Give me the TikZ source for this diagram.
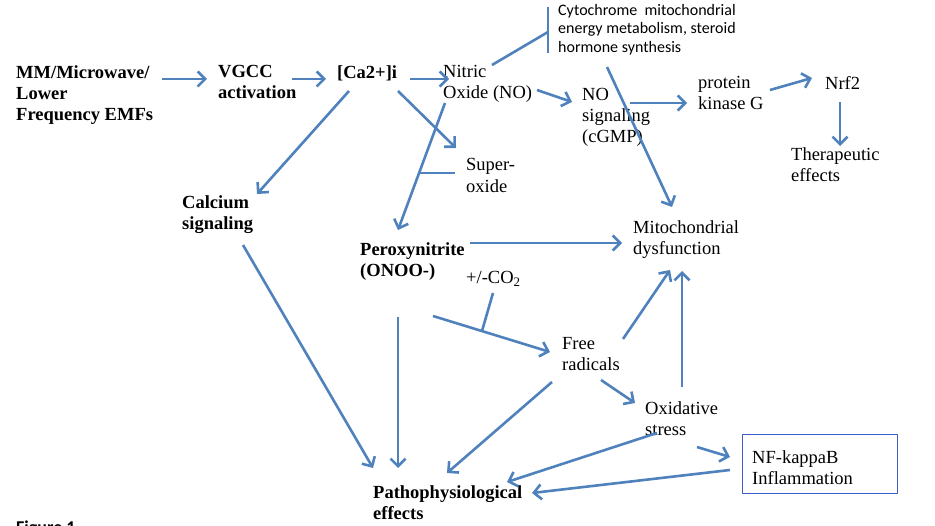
\documentclass[tikz,border=0pt]{standalone}
\usepackage{fontspec}
\setmainfont{Liberation Serif}
\newfontfamily\calib{Carlito}
\usetikzlibrary{arrows.meta}
\definecolor{arrowblue}{RGB}{79,129,189}
\definecolor{boxblue}{RGB}{60,95,200}
\begin{document}
\begin{tikzpicture}[x=1pt,y=-1pt,
  lbl/.style={anchor=north west,inner sep=0pt,align=left,font=\fontsize{18.5}{21}\selectfont},
  blbl/.style={lbl,font=\fontsize{18.5}{21}\selectfont\bfseries},
  slbl/.style={anchor=north west,inner sep=0pt,align=left,font=\calib\fontsize{16}{18.5}\selectfont},
  arr/.style={draw=arrowblue,line width=2.6pt,-{Straight Barb[length=7.5pt,width=15pt]}},
  ln/.style={draw=arrowblue,line width=2.6pt}]
\useasboundingbox (0,0) rectangle (935,526);
% nodes
\node[blbl] (mm) at (16,65) {MM/Microwave/\\Lower\\Frequency EMFs};
\node[blbl] (vgcc) at (218,65) {VGCC\\activation};
\node[blbl] (ca) at (337,65) {[Ca2+]i};
\node[lbl] (no) at (443,65) {Nitric\\Oxide (NO)};
\node[slbl] (cyt) at (558,4) {Cytochrome\ \ mitochondrial\\energy metabolism, steroid\\hormone synthesis};
\node[lbl] (nos) at (582,88) {NO\\signaling\\(cGMP)};
\node[lbl] (pkg) at (698,76) {protein\\kinase G};
\node[lbl] (nrf) at (825,76) {Nrf2};
\node[lbl] (ther) at (791,147) {Therapeutic\\effects};
\node[lbl,font=\fontsize{18.5}{22}\selectfont] (sup) at (466,158) {Super-\\oxide};
\node[blbl] (cal) at (182,195) {Calcium\\signaling};
\node[blbl] (per) at (360,242) {Peroxynitrite\\(ONOO-)};
\node[lbl] (mito) at (633,220) {Mitochondrial\\dysfunction};
\node[lbl] (co2) at (466,271) {+/-CO\textsubscript{2}};
\node[lbl] (free) at (562,337) {Free\\radicals};
\node[lbl] (ox) at (645,401) {Oxidative\\stress};
\node[draw=boxblue,line width=1.3pt,anchor=north west,minimum width=155pt,minimum height=59pt] (nfkb) at (742,434) {};
\node[lbl] (nfkbt) at (752,450) {NF-kappaB\\Inflammation};
\node[blbl] (patho) at (373,485) {Pathophysiological\\effects};
\node[anchor=north west,inner sep=0pt,font=\calib\bfseries\fontsize{18}{21}\selectfont] (fig) at (16,521) {Figure 1};
% connectors
\draw[arr] ([shift={(146,14)}]mm.north west) -- ([shift={(-11,14)}]vgcc.north west);
\draw[arr] ([shift={(74,14)}]vgcc.north west) -- ([shift={(-11,14)}]ca.north west);
\draw[arr] ([shift={(73,14)}]ca.north west) -- ([shift={(6,14)}]no.north west);
\draw[ln] ([shift={(49,0)}]no.north west) -- ([shift={(-10,28)}]cyt.north west);
\draw[ln] ([shift={(-10,3)}]cyt.north west) -- ([shift={(-10,49)}]cyt.north west);
\draw[arr] ([shift={(94,25)}]no.north west) -- ([shift={(-10,14)}]nos.north west);
\draw[arr] ([shift={(48,15)}]nos.north west) -- ([shift={(-11,27)}]pkg.north west);
\draw[arr] ([shift={(72,14)}]pkg.north west) -- ([shift={(-13,2)}]nrf.north west);
\draw[arr] ([shift={(15,26)}]nrf.north west) -- ([shift={(49,-1)}]ther.north west);
\draw[arr] ([shift={(49,63)}]cyt.north west) -- ([shift={(39,-13)}]mito.north west);
\draw[arr] ([shift={(12,26)}]ca.north west) -- ([shift={(75,-1)}]cal.north west);
\draw[arr] ([shift={(61,26)}]ca.north west) -- ([shift={(-10,-10)}]sup.north west);
\draw[arr] ([shift={(2,38)}]no.north west) -- ([shift={(38,-12)}]per.north west);
\draw[ln] ([shift={(-11,15)}]sup.north west) -- ([shift={(-47,15)}]sup.north west);
\draw[arr] ([shift={(110,1)}]per.north west) -- ([shift={(-11,23)}]mito.north west);
\draw[arr] ([shift={(73,74)}]per.north west) -- ([shift={(-12,15)}]free.north west);
\draw[ln] ([shift={(27,22)}]co2.north west) -- ([shift={(16,60)}]co2.north west);
\draw[arr] ([shift={(61,2)}]free.north west) -- ([shift={(37,50)}]mito.north west);
\draw[arr] ([shift={(37,-14)}]ox.north west) -- ([shift={(49,51)}]mito.north west);
\draw[arr] ([shift={(39,43)}]free.north west) -- ([shift={(-10,2)}]ox.north west);
\draw[arr] ([shift={(52,46)}]ox.north west) -- ([shift={(-12,23)}]nfkb.north west);
\draw[arr] ([shift={(12,32)}]ox.north west) -- ([shift={(134,-3)}]patho.north west);
\draw[arr] ([shift={(-12,36)}]nfkb.north west) -- ([shift={(159,8)}]patho.north west);
\draw[arr] ([shift={(-10,45)}]free.north west) -- ([shift={(74,-12)}]patho.north west);
\draw[arr] ([shift={(38,75)}]per.north west) -- ([shift={(25,-17)}]patho.north west);
\draw[arr] ([shift={(61,50)}]cal.north west) -- ([shift={(0,-17)}]patho.north west);
\end{tikzpicture}
\end{document}
